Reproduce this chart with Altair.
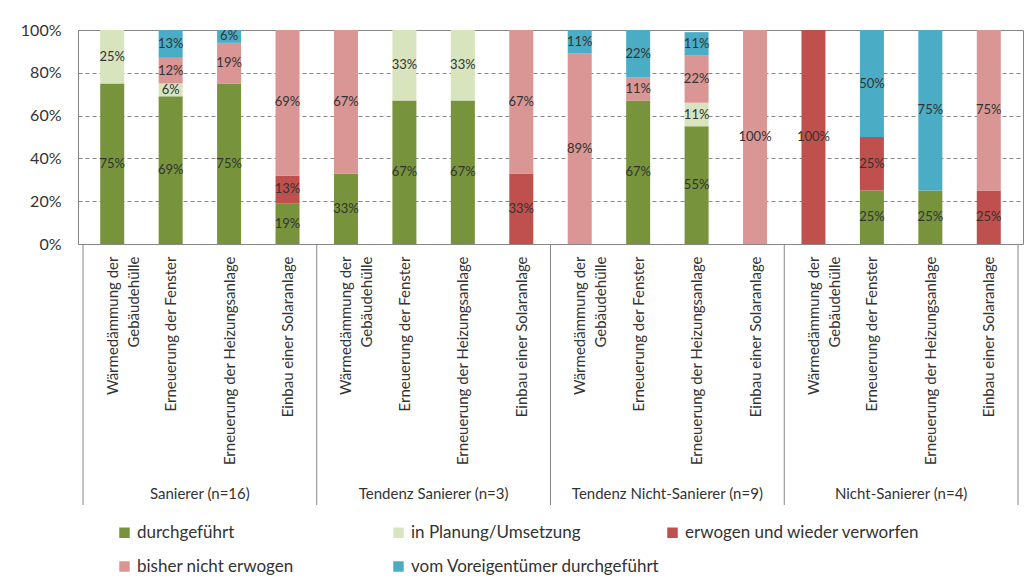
import json
import altair as alt
import pandas as pd

groups = ["Sanierer (n=16)", "Tendenz Sanierer (n=3)",
          "Tendenz Nicht-Sanierer (n=9)", "Nicht-Sanierer (n=4)"]
measures = [["Wärmedämmung der", "Gebäudehülle"],
            ["Erneuerung der Fenster"],
            ["Erneuerung der Heizungsanlage"],
            ["Einbau einer Solaranlage"]]
categories = ["durchgeführt", "in Planung/Umsetzung", "erwogen und wieder verworfen",
              "bisher nicht erwogen", "vom Voreigentümer durchgeführt"]
colors = ["#77933C", "#D7E4BD", "#C0504D", "#D99694", "#4BACC6"]

durchgefuehrt = [75, 69, 75, 19, 33, 67, 67, 0, 0, 67, 55, 0, 0, 25, 25, 0]
planung = [25, 6, 0, 0, 0, 33, 33, 0, 0, 0, 11, 0, 0, 0, 0, 0]
verworfen = [0, 0, 0, 13, 0, 0, 0, 33, 0, 0, 0, 0, 100, 25, 0, 25]
nicht_erwogen = [0, 12, 19, 69, 67, 0, 0, 67, 89, 11, 22, 100, 0, 0, 0, 75]
voreigentuemer = [0, 13, 6, 0, 0, 0, 0, 0, 11, 22, 11, 0, 0, 50, 75, 0]

series = [durchgefuehrt, planung, verworfen, nicht_erwogen, voreigentuemer]
n_bars = len(groups) * len(measures)
bar_labels = [measures[i % len(measures)] for i in range(n_bars)]

rows = []
for ci, (cat, vals) in enumerate(zip(categories, series)):
    for i, v in enumerate(vals):
        if v > 0:
            rows.append({"pos": i + 0.5, "cat": cat, "order": ci, "value": v,
                         "label": f"{v}%"})
df = pd.DataFrame(rows)

group_df = pd.DataFrame({"gx": [len(measures) * g + len(measures) / 2 for g in range(len(groups))],
                         "name": groups})
sep_df = pd.DataFrame({"sx": [len(measures) * g for g in range(len(groups) + 1)]})

FONT = "Lato"
TXT = "#333333"
GRAY = "#868686"
W, H = 945, 214

label_expr = json.dumps(bar_labels, ensure_ascii=False) + "[floor(datum.value)]"

xscale = alt.Scale(domain=[0, n_bars], nice=False, zero=False)
yscale = alt.Scale(domain=[0, 100], nice=False)

base = alt.Chart(df).transform_stack(
    stack="value", groupby=["pos"], sort=[alt.SortField("order", "ascending")], as_=["v0", "v1"]
).transform_calculate(mid="(datum.v0 + datum.v1) / 2")

bars = base.mark_bar(size=24, clip=True).encode(
    x=alt.X("pos:Q", scale=xscale,
            axis=alt.Axis(values=[i + 0.5 for i in range(n_bars)], labelExpr=label_expr,
                          labelAngle=270, labelAlign="right", labelBaseline="middle",
                          ticks=False, domain=False, grid=False, labelPadding=12,
                          labelFlush=False, labelOverlap=False, labelBound=False,
                          labelFontSize=15, labelColor=TXT, labelFont=FONT,
                          labelLimit=400, labelLineHeight=21, title=None)),
    y=alt.Y("v0:Q", scale=yscale,
            axis=alt.Axis(values=[0, 20, 40, 60, 80, 100], labelExpr="datum.value + '%'",
                          ticks=False, domain=False, grid=True, gridColor=GRAY,
                          gridDash=[4, 3], gridWidth=1, labelPadding=17,
                          labelFontSize=16, labelColor=TXT, labelFont=FONT, title=None)),
    y2="v1:Q",
    color=alt.Color("cat:N", scale=alt.Scale(domain=categories, range=colors),
                    legend=alt.Legend(orient="none", legendX=38, legendY=494, columns=3,
                                      direction="horizontal", symbolType="square",
                                      symbolSize=110, symbolStrokeWidth=0,
                                      labelFontSize=17, labelFont=FONT, labelColor=TXT,
                                      labelLimit=500, gridAlign="all", columnPadding=4,
                                      rowPadding=16, labelOffset=4, title=None)),
    order=alt.Order("order:Q"),
)

texts = base.mark_text(fontSize=13, font=FONT, color=TXT, baseline="middle").encode(
    x=alt.X("pos:Q", scale=xscale),
    y=alt.Y("mid:Q", scale=yscale),
    text="label:N",
)

seps = alt.Chart(sep_df).mark_rule(color=GRAY, strokeWidth=1).encode(
    x=alt.X("sx:Q", scale=xscale),
    y=alt.value(H),
    y2=alt.value(475),
)

glabels = alt.Chart(group_df).mark_text(fontSize=15, font=FONT, color=TXT,
                                        baseline="middle").encode(
    x=alt.X("gx:Q", scale=xscale),
    y=alt.value(464),
    text="name:N",
)

chart = alt.layer(bars, texts, seps, glabels).properties(
    width=W, height=H,
    autosize=alt.AutoSizeParams(type="none"),
    padding={"left": 70, "top": 22, "right": 1, "bottom": 332},
    background="white",
).configure_view(stroke=GRAY, strokeWidth=1)

chart.save("out.html", embed_options={"renderer": "svg", "actions": False})
